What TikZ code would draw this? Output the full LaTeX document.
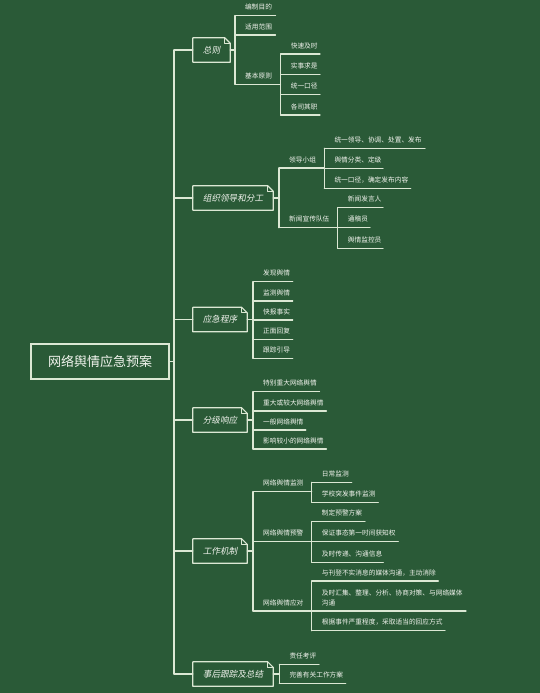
\documentclass[tikz,border=0pt]{standalone}
\usepackage{fontspec}
\newfontfamily\cjk{Noto Sans CJK SC}
\newfontfamily\cjkit[FakeSlant=0.2]{Noto Sans CJK SC}
\definecolor{bg}{HTML}{2A5A37}
\definecolor{chalk}{HTML}{DCE8D4}
\definecolor{txt}{HTML}{F2F4EE}
\tikzset{
  ln/.style={draw=chalk, line width=1.2pt, line cap=round, line join=round},
  leaftext/.style={anchor=base west, inner sep=0pt, text=txt, font=\cjk\fontsize{6.7}{9.4}\selectfont},
  rootbox/.style={draw=chalk, line width=1.3pt, minimum width=138pt, minimum height=35pt, inner sep=0pt, text=txt, font=\cjk\fontsize{13}{15}\selectfont},
  lvone/.style={inner sep=0pt, minimum height=24pt, text=txt, font=\cjkit\fontsize{8.6}{10}\selectfont},
}
\newcommand\mmleaf[5]{%
  \coordinate (#1s) at (#2,#3);
  \coordinate (#1e) at (#4,#3);
  \node[leaftext] (#1) at (#2+10,#3-5.8) {#5};
  \draw[ln] (#1s) -- (#1e);
}
\newcommand\earbox[1]{%
  \draw[ln] (#1.south west) -- (#1.north west) -- ([xshift=-5.5pt]#1.north east)
    -- ([yshift=-5.5pt]#1.north east) -- (#1.south east) -- cycle;
  \draw[draw=chalk, line width=0.8pt, line join=round] ([xshift=-5.5pt]#1.north east)
    -- ([xshift=-5.5pt,yshift=-5.5pt]#1.north east) -- ([yshift=-5.5pt]#1.north east);
}
\begin{document}
\begin{tikzpicture}[x=1pt,y=-1pt]
\fill[bg] (0,0) rectangle (540,693);
\useasboundingbox (0,0) rectangle (540,693);

% root and trunk
\node[rootbox] (root) at (100,361.5) {网络舆情应急预案};
\coordinate (tk1) at (174,50);
\coordinate (tk6) at (174,674);
\draw[ln] (tk1) -- (tk6);
\draw[ln] (root.east) -- (root.east -| tk1);

% level one boxes
\node[lvone, minimum width=37pt] (za) at (211.5,50) {总则};
\node[lvone, minimum width=80pt] (zb) at (233,198) {组织领导和分工};
\node[lvone, minimum width=54pt] (zc) at (220,319.5) {应急程序};
\node[lvone, minimum width=54pt] (zd) at (220,420) {分级响应};
\node[lvone, minimum width=54pt] (ze) at (220,551) {工作机制};
\node[lvone, minimum width=80pt] (zf) at (233,674) {事后跟踪及总结};
\foreach \b in {za,zb,zc,zd,ze,zf}{
  \earbox{\b}
  \draw[ln] (\b.west -| tk1) -- (\b.west);
}

% 总则
\mmleaf{a1}{235}{15.7}{275.5}{编制目的}
\mmleaf{a2}{235}{35}{275.5}{适用范围}
\mmleaf{a3}{235}{84.3}{280.6}{基本原则}
\draw[ln] (za.east) -- (za.east -| a1s);
\draw[ln] (a1s) -- (a3s);
\mmleaf{a31}{280.6}{54}{320}{快速及时}
\mmleaf{a32}{280.6}{74.3}{320}{实事求是}
\mmleaf{a33}{280.6}{94.7}{320}{统一口径}
\mmleaf{a34}{280.6}{115}{320}{各司其职}
\draw[ln] (a31s) -- (a34s);

% 组织领导和分工
\mmleaf{b1}{279}{168}{324.3}{领导小组}
\mmleaf{b2}{279}{227.7}{337.7}{新闻宣传队伍}
\draw[ln] (zb.east) -- (zb.east -| b1s);
\draw[ln] (b1s) -- (b2s);
\mmleaf{b11}{324.3}{148.3}{425}{统一领导、协调、处置、发布}
\mmleaf{b12}{324.3}{168.3}{383}{舆情分类、定级}
\mmleaf{b13}{324.3}{188.3}{410.7}{统一口径，确定发布内容}
\draw[ln] (b11s) -- (b13s);
\mmleaf{b21}{337.7}{207.7}{383}{新闻发言人}
\mmleaf{b22}{337.7}{227.7}{370}{通稿员}
\mmleaf{b23}{337.7}{248.3}{383}{舆情监控员}
\draw[ln] (b21s) -- (b23s);

% 应急程序
\mmleaf{c1}{253}{281.7}{292.7}{发现舆情}
\mmleaf{c2}{253}{301}{292.7}{监测舆情}
\mmleaf{c3}{253}{320}{292.7}{快报事实}
\mmleaf{c4}{253}{339.3}{292.7}{正面回复}
\mmleaf{c5}{253}{358.3}{292.7}{跟踪引导}
\draw[ln] (zc.east) -- (zc.east -| c1s);
\draw[ln] (c1s) -- (c5s);

% 分级响应
\mmleaf{d1}{253}{391.7}{319.6}{特别重大网络舆情}
\mmleaf{d2}{253}{411}{326.4}{重大或较大网络舆情}
\mmleaf{d3}{253}{430}{305.8}{一般网络舆情}
\mmleaf{d4}{253}{449}{326.4}{影响较小的网络舆情}
\draw[ln] (zd.east) -- (zd.east -| d1s);
\draw[ln] (d1s) -- (d4s);

% 工作机制
\mmleaf{e1}{253}{491.7}{311.7}{网络舆情监测}
\mmleaf{e2}{253}{541.7}{311.7}{网络舆情预警}
\mmleaf{e3}{253}{611}{311.7}{网络舆情应对}
\draw[ln] (ze.east) -- (ze.east -| e1s);
\draw[ln] (e1s) -- (e3s);
\mmleaf{e11}{311.7}{482.3}{351.7}{日常监测}
\mmleaf{e12}{311.7}{502.3}{378.3}{学校突发事件监测}
\draw[ln] (e11s) -- (e12s);
\mmleaf{e21}{311.7}{521.7}{365}{制定预警方案}
\mmleaf{e22}{311.7}{541.7}{398.3}{保证事态第一时间获知权}
\mmleaf{e23}{311.7}{562.3}{383.3}{及时传递、沟通信息}
\draw[ln] (e21s) -- (e23s);
\mmleaf{e31}{311.7}{581}{438.3}{与刊登不实消息的媒体沟通，主动消除}
\coordinate (e32s) at (311.7,611);
\coordinate (e32e) at (466,611);
\node[leaftext, align=left] (e32) at (321.7,611-5.8) {及时汇集、整理、分析、协商对策、与网络媒体\\沟通};
\draw[ln] (e32s) -- (e32e);
\mmleaf{e33}{311.7}{630.7}{445}{根据事件严重程度，采取适当的回应方式}
\draw[ln] (e31s) -- (e33s);

% 事后跟踪及总结
\mmleaf{f1}{279.3}{664.3}{319}{责任考评}
\mmleaf{f2}{279.3}{683.3}{345.7}{完善有关工作方案}
\draw[ln] (zf.east) -- (zf.east -| f1s);
\draw[ln] (f1s) -- (f2s);
\end{tikzpicture}
\end{document}
